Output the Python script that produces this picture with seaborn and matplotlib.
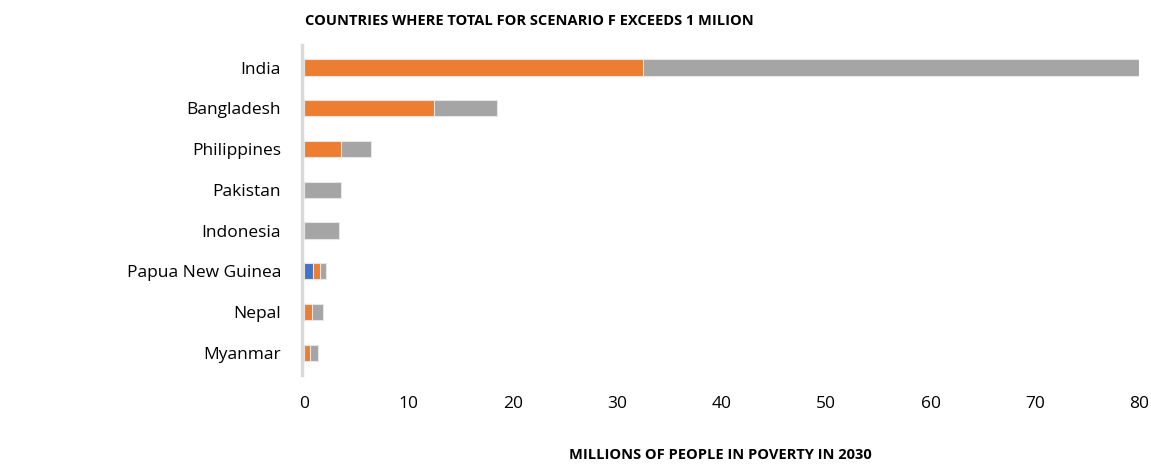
import matplotlib
matplotlib.use("Agg")
import matplotlib.pyplot as plt
import seaborn as sns
import numpy as np
import pandas as pd

countries = ["India", "Bangladesh", "Philippines", "Pakistan", "Indonesia",
             "Papua New Guinea", "Nepal", "Myanmar"]
series_a = [0.0, 0.0, 0.0, 0.0, 0.0, 0.85, 0.0, 0.0]      # blue
series_b = [32.5, 12.5, 3.6, 0.0, 0.0, 0.7, 0.8, 0.57]   # orange
series_c = [47.5, 6.0, 2.8, 3.6, 3.4, 0.55, 1.05, 0.77]  # gray
x_ticks = [0, 10, 20, 30, 40, 50, 60, 70, 80]

sns.set_theme(style="white")
plt.rcParams['font.family'] = ['Open Sans', 'DejaVu Sans']

df = pd.DataFrame({"country": countries, "a": series_a, "b": series_b, "c": series_c})
df["ab"] = df["a"] + df["b"]
df["abc"] = df["ab"] + df["c"]

fig = plt.figure(figsize=(11.51, 4.66), dpi=100)
ax = fig.add_axes([0.264, 0.195, 0.726, 0.708])

edge = dict(edgecolor="#e6e6e6", linewidth=0.8)
sns.barplot(data=df, y="country", x="abc", color="#A5A5A5", orient="h", width=0.4, ax=ax, saturation=1, **edge)
sns.barplot(data=df, y="country", x="ab", color="#ED7D31", orient="h", width=0.4, ax=ax, saturation=1, **edge)
sns.barplot(data=df, y="country", x="a", color="#4472C4", orient="h", width=0.4, ax=ax, saturation=1, **edge)

ax.set_xlim(0, 80)
ax.set_xticks(x_ticks)
ax.set_xticklabels([str(t) for t in x_ticks])
ax.set_ylim(7.55, -0.55)
for s in ["top", "right", "bottom"]:
    ax.spines[s].set_visible(False)
ax.spines["left"].set_color("#d9d9d9")
ax.spines["left"].set_linewidth(2.5)
ax.spines["left"].set_position(("outward", 1.5))
ax.tick_params(axis="x", length=0, pad=15, labelsize=12.5, labelcolor="#000000")
ax.tick_params(axis="y", length=0, pad=15, labelsize=12.5, labelcolor="#000000")
ax.set_ylabel("")
ax.set_xlabel("")

fig.text(0.265, 0.955, "COUNTRIES WHERE TOTAL FOR SCENARIO F EXCEEDS 1 MILION",
         fontsize=10.5, fontweight="bold", ha="left", va="center", color="#000000")
fig.text(0.626, 0.008, "MILLIONS OF PEOPLE IN POVERTY IN 2030",
         fontsize=10.5, fontweight="bold", ha="center", va="bottom", color="#000000")

fig.savefig("out.png", dpi=100)
